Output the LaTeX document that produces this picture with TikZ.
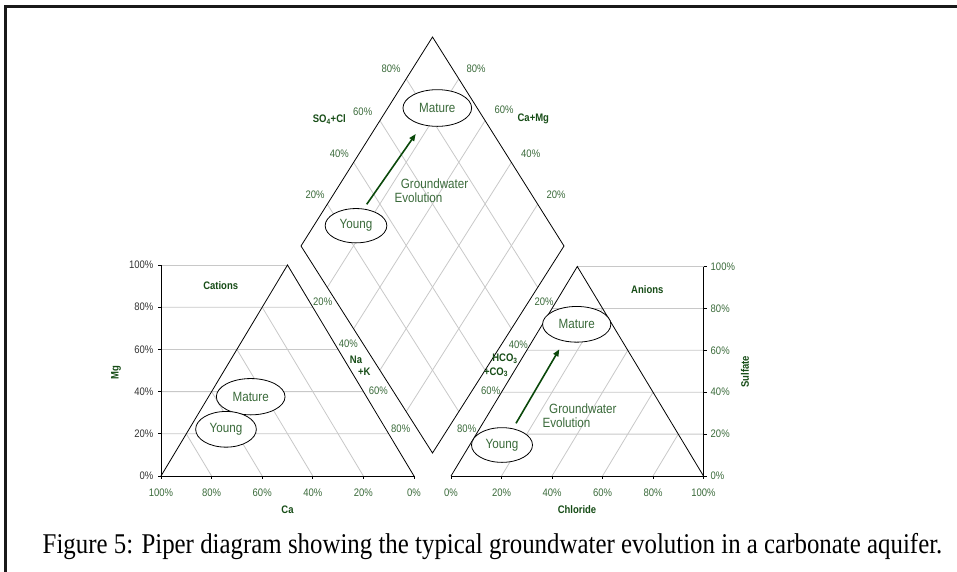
\documentclass[tikz,border=0pt]{standalone}
\usepackage{fontspec}
\setmainfont{Liberation Sans}[FakeStretch=0.87]
\newfontfamily\capfont{Liberation Serif}[FakeStretch=0.87]
\usetikzlibrary{calc,arrows.meta,shapes.geometric}
\definecolor{pctgreen}{RGB}{58,106,58}
\definecolor{lblgreen}{RGB}{22,76,22}
\definecolor{arrgreen}{RGB}{10,72,10}
\definecolor{gridgray}{RGB}{200,200,200}
\tikzset{
  grid line/.style={draw=gridgray, line width=0.8},
  edge line/.style={draw=black, line width=0.8},
  pct/.style={text=pctgreen, font=\fontsize{10.9}{12}\selectfont, inner sep=0},
  axpct/.style={text=black!80, font=\fontsize{10.9}{12}\selectfont, inner sep=0},
  boldlbl/.style={text=lblgreen, font=\fontsize{10.9}{12}\selectfont\bfseries, inner sep=0},
  stage/.style={ellipse, draw=black, line width=0.8, fill=white, inner sep=0,
     text=pctgreen, font=\fontsize{13.4}{15}\selectfont},
  evo/.style={text=pctgreen, font=\fontsize{13.4}{15}\selectfont, inner sep=0, anchor=west},
  evoarrow/.style={draw=arrgreen, line width=1.6, -{Triangle[length=7pt,width=5.5pt]}},
}
\begin{document}
\begin{tikzpicture}[x=1pt,y=-1pt]
\useasboundingbox (0,0) rectangle (957,571);
% frame
\draw[line width=2.4, black!90] (5.5,580) -- (5.5,6.5) -- (965,6.5);

% key points
\coordinate (LA) at (161,476);
\coordinate (LB) at (414,476);
\coordinate (LC) at (287.5,265);
\coordinate (RA) at (451,476);
\coordinate (RB) at (703.5,476);
\coordinate (RC) at (577.3,266.5);
\coordinate (DT) at (432.5,37);
\coordinate (DL) at (301,246);
\coordinate (DR) at (564,246);
\coordinate (DB) at (432.5,453);

% grid lines
\foreach \k [evaluate=\k as \f using \k/5, evaluate=\k as \g using 1-\k/5] in {1,...,4} {
  % left triangle
  \draw[grid line] ($(LA)!\f!(LC)$) -- ($(LA)!\f!(LB)$);
  \draw[grid line] (161,{476-\k*42.2}) -- ($(LB)!\f!(LC)$);
  % right triangle
  \draw[grid line] ($(RA)!\f!(RB)$) -- ($(RB)!\g!(RC)$);
  \draw[grid line] ($(RA)!\f!(RC)$) -- (703.5,{476-\k*41.9});
  % diamond
  \draw[grid line] ($(DT)!\f!(DL)$) -- ($(DR)!\f!(DB)$);
  \draw[grid line] ($(DT)!\f!(DR)$) -- ($(DL)!\f!(DB)$);
}
\draw[grid line] (161,265) -- (LC);
\draw[grid line] (RC) -- (703.5,266.5);

% outlines
\draw[edge line] (LA) -- (LC) -- (LB);
\draw[edge line] (RA) -- (RC) -- (RB);
\draw[edge line] (DT) -- (DR) -- (DB) -- (DL) -- cycle;

% axes
\draw[edge line] (161,265) -- (LA) -- (LB);
\draw[edge line] (703.5,266.5) -- (RB) -- (RA);
\foreach \k in {0,...,5} {
  \draw[edge line] (161,{476-\k*42.2}) -- ++(-3,0);
  \draw[edge line] (703.5,{476-\k*41.9}) -- ++(3,0);
  \draw[edge line] ({161+\k*50.6},476) -- ++(0,3);
  \draw[edge line] ({451+\k*50.5},476) -- ++(0,3);
}

% axis labels
\foreach \k [evaluate=\k as \v using int(20*\k), evaluate=\k as \w using int(100-20*\k)] in {0,...,5} {
  \node[axpct, anchor=east] (ml\k) at (153.5,{476-\k*42.2}) {\v\%};
  \node[pct, anchor=west] (sl\k) at (710.5,{476-\k*41.9}) {\v\%};
  \node[pct] (cl\k) at ({161+\k*50.6},492.3) {\w\%};
  \node[pct] (chl\k) at ({451+\k*50.5},492.3) {\v\%};
}

% diamond labels
\node[pct] (dl80) at (391,68.3) {80\%};
\node[pct] (dl60) at (362.7,112) {60\%};
\node[pct] (dl40) at (339.3,153.7) {40\%};
\node[pct] (dl20) at (315,194.7) {20\%};
\node[pct] (dr80) at (476,68.3) {80\%};
\node[pct] (dr60) at (504,110) {60\%};
\node[pct] (dr40) at (530.7,153.7) {40\%};
\node[pct] (dr20) at (556,194.7) {20\%};

% Na+K labels
\node[pct] (nk20) at (322.7,301.7) {20\%};
\node[pct] (nk40) at (348.3,344) {40\%};
\node[pct] (nk60) at (378.3,390.7) {60\%};
\node[pct] (nk80) at (400.7,429) {80\%};
% HCO3+CO3 labels
\node[pct] (hc20) at (544,301.7) {20\%};
\node[pct] (hc40) at (518.3,344.3) {40\%};
\node[pct] (hc60) at (490.7,390.7) {60\%};
\node[pct] (hc80) at (466.7,428.3) {80\%};

% bold titles
\node[boldlbl] (cations) at (220.7,285.7) {Cations};
\node[boldlbl] (anions) at (647.3,289.3) {Anions};
\node[boldlbl] (so4cl) at (329.3,119.3) {SO\textsubscript{4}+Cl};
\node[boldlbl] (camg) at (533.3,119.3) {Ca+Mg};
\node[boldlbl] (na) at (356,359.3) {Na};
\node[boldlbl] (pk) at (364.3,371.7) {+K};
\node[boldlbl] (hco) at (505,359) {HCO\textsubscript{3}};
\node[boldlbl] (pco) at (496,372.3) {+CO\textsubscript{3}};
\node[boldlbl, rotate=90] (mg) at (116,372.3) {Mg};
\node[boldlbl, rotate=90] (sulf) at (745,371.7) {Sulfate};
\node[boldlbl] (ca) at (287.5,509.5) {Ca};
\node[boldlbl] (chl) at (577,509.5) {Chloride};

% ellipses
\node[stage, minimum width=68.7, minimum height=36.7] (dmat) at (437.3,108) {Mature};
\node[stage, minimum width=61.7, minimum height=34.3] (dyng) at (356,225.7) {Young};
\node[stage, minimum width=68.7, minimum height=36.3] (lmat) at (250.7,396.7) {Mature};
\node[stage, minimum width=60.7, minimum height=35.7] (lyng) at (226,429.3) {Young};
\node[stage, minimum width=68.3, minimum height=35.7] (rmat) at (576.7,324.3) {Mature};
\node[stage, minimum width=61, minimum height=34.7] (ryng) at (502,445) {Young};

% evolution text
\node[evo] (dgw) at (400.7,183.3) {Groundwater};
\node[evo] (dev) at (394.3,197.3) {Evolution};
\node[evo] (rgw) at (549,409) {Groundwater};
\node[evo] (rev) at (542.3,422.7) {Evolution};

% arrows
\coordinate (da1) at (366.7,204.3);
\coordinate (da2) at (415.7,134);
\coordinate (ra1) at (516,423.3);
\coordinate (ra2) at (559.3,349.3);
\draw[evoarrow] (da1) -- (da2);
\draw[evoarrow] (ra1) -- (ra2);

% caption
\node[anchor=base, inner sep=0, font=\capfont\fontsize{28.6}{30}\selectfont] (cap) at (492.5,553)
  {Figure 5: Piper diagram showing the typical groundwater evolution in a carbonate aquifer.};
\end{tikzpicture}
\end{document}
